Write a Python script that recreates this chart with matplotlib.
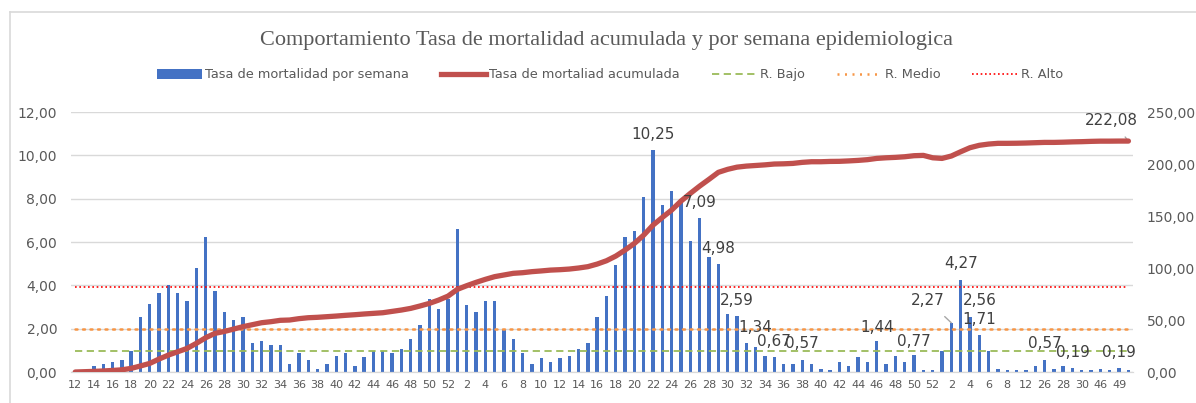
import matplotlib
matplotlib.use("Agg")
import matplotlib.pyplot as plt
from matplotlib.ticker import FuncFormatter, MultipleLocator
from matplotlib.lines import Line2D
from matplotlib.patches import Patch
import numpy as np

# epidemiological weeks: 2020 (12-52), 2021 (1-52), 2022 (partial)
weeks_y1 = list(range(12, 53))
weeks_y2 = list(range(1, 53))
weeks_y3 = [1, 2, 3, 4, 5, 6, 7, 8, 10, 12, 14, 26, 27, 28, 29, 30, 45, 46, 48, 49, 50]
weeks = weeks_y1 + weeks_y2 + weeks_y3

# weekly mortality rate
rate_y1 = [0.05, 0.08, 0.29, 0.36, 0.47, 0.55, 0.95, 2.56, 3.13, 3.64, 4.01, 3.64, 3.26,
           4.78, 6.24, 3.73, 2.75, 2.38, 2.56, 1.32, 1.44, 1.24, 1.24, 0.36, 0.87, 0.55,
           0.16, 0.36, 0.75, 0.87, 0.29, 0.69, 0.95, 0.95, 0.87, 1.06, 1.52, 2.18, 3.35,
           2.89, 3.35]
rate_y2 = [6.62, 3.07, 2.75, 3.27, 3.26, 1.98, 1.52, 0.86, 0.35, 0.66, 0.47, 0.66, 0.73,
           1.04, 1.32, 2.55, 3.53, 4.96, 6.24, 6.50, 8.06, 10.25, 7.73, 8.35, 7.98, 6.04,
           7.09, 5.33, 4.98, 2.67, 2.59, 1.34, 1.15, 0.75, 0.67, 0.36, 0.36, 0.57, 0.36,
           0.16, 0.10, 0.47, 0.29, 0.69, 0.47, 1.44, 0.36, 0.75, 0.47, 0.77, 0.10, 0.10]
rate_y3 = [0.96, 2.27, 4.27, 2.56, 1.71, 0.96, 0.16, 0.10, 0.10, 0.10, 0.29, 0.57, 0.16,
           0.29, 0.19, 0.10, 0.10, 0.16, 0.10, 0.19, 0.10]
weekly_rate = rate_y1 + rate_y2 + rate_y3

# cumulative mortality rate (right axis)
cumulative = [0.0, 0.3, 0.6, 1.0, 1.5, 2.1, 3.5, 5.8, 8.3, 12.5, 16.3, 19.5, 22.7, 27.6,
              33.0, 37.2, 39.0, 41.3, 43.6, 45.5, 47.4, 48.4, 49.7, 50.0, 51.3, 52.2,
              52.6, 53.2, 53.8, 54.5, 55.1, 55.8, 56.4, 57.0, 58.3, 59.6, 61.2, 63.5,
              66.0, 69.2, 73.0, 79.5, 83.0, 86.2, 89.1, 91.7, 93.3, 94.9, 95.5, 96.5,
              97.2, 98.0, 98.4, 99.0, 100.0, 101.3, 103.8, 107.0, 111.5, 117.3, 123.7,
              131.7, 141.3, 148.7, 155.8, 164.4, 171.8, 178.8, 185.3, 192.0, 194.9,
              197.0, 198.0, 198.6, 199.2, 200.0, 200.2, 200.6, 201.6, 202.2, 202.2,
              202.5, 202.6, 203.0, 203.5, 204.2, 205.4, 206.0, 206.4, 207.0, 208.0,
              208.3, 206.0, 205.4, 207.7, 211.8, 215.7, 218.0, 219.2, 219.9, 219.9,
              220.0, 220.2, 220.5, 220.8, 220.8, 221.0, 221.3, 221.5, 221.8, 222.0,
              222.0, 222.08, 222.08]

# risk thresholds
r_bajo = 0.95
r_medio = 1.97
r_alto = 3.94

# data labels shown on bars: (bar index, value, x shift px, y shift px)
bar_labels = [(62, 10.25, 0, 0), (67, 7.09, 0, 0), (69, 4.98, 0, 0), (71, 2.59, 0, 0),
              (72, 1.34, 9, 0), (75, 0.67, 0, 0), (78, 0.57, 0, 0), (86, 1.44, 0, -3),
              (90, 0.77, 0, -2), (95, 4.27, 0, 0), (96, 2.56, 10, 0), (97, 1.71, 0, 0),
              (104, 0.57, 0, 0), (107, 0.19, 0, 0), (112, 0.19, 0, 0)]

BLUE = '#4472C4'
RED = '#C0504D'
GRAY = '#595959'


def comma(v, pos=None):
    return ('%.2f' % v).replace('.', ',')


x = np.arange(len(weeks))

fig = plt.figure(figsize=(11.96, 4.03), dpi=100)
ax1 = fig.add_axes([0.0594, 0.0769, 0.8876, 0.6451])
ax2 = ax1.twinx()

ax1.bar(x, weekly_rate, width=0.36, color=BLUE, zorder=2)
ax1.plot(x, np.full(len(x), r_bajo), color='#9BBB59', lw=1.3, ls=(0, (4, 2.5)), zorder=3)
ax1.plot(x, np.full(len(x), r_medio), color='#F79646', lw=1.8, ls=(0, (0.8, 2.2)),
         dash_capstyle='round', zorder=3)
ax1.plot(x, np.full(len(x), r_alto), color='#FF0000', lw=1.2, ls=(0, (1, 1.6)), zorder=3)
ax1.set_ylim(0, 12)
ax1.yaxis.set_major_locator(MultipleLocator(2))
ax1.yaxis.set_major_formatter(FuncFormatter(comma))
ax1.grid(axis='y', color='#D9D9D9', lw=1, zorder=0)
ax1.set_axisbelow(True)

ax2.plot(x, cumulative, color=RED, lw=3.8, solid_capstyle='round', zorder=4)
ax2.set_ylim(0, 250)
ax2.yaxis.set_major_locator(MultipleLocator(50))
ax2.yaxis.set_major_formatter(FuncFormatter(comma))

ax1.set_xlim(-0.45, len(weeks) - 0.55)
ax1.set_xticks(x[::2])
ax1.set_xticklabels([str(w) for w in weeks[::2]])

for ax in (ax1, ax2):
    for s in ('top', 'left', 'right'):
        ax.spines[s].set_visible(False)
    ax.spines['bottom'].set_color('#D9D9D9')
    ax.tick_params(length=0, colors=GRAY)
ax1.tick_params(axis='y', labelsize=10, pad=10)
ax2.tick_params(axis='y', labelsize=10, pad=10)
ax1.tick_params(axis='x', labelsize=8, pad=6)

# labels drawn on the top axes so the line does not cover them
for idx, val, dx, dy in bar_labels:
    ax2.annotate(comma(val), (x[idx], val), xycoords=ax1.transData,
                 xytext=(dx * 0.72, 6 + dy * 0.72),
                 textcoords='offset points', ha='center', va='bottom',
                 fontsize=11, color='#404040', zorder=6)

# moved labels with leader lines
ax2.annotate(comma(weekly_rate[94]), (x[94], weekly_rate[94]), xycoords=ax1.transData,
             xytext=(-17, 16), textcoords='offset points', ha='center', va='center',
             fontsize=11, color='#404040',
             arrowprops=dict(arrowstyle='-', color='#A6A6A6', lw=1, shrinkA=6, shrinkB=0))
ax2.annotate(comma(cumulative[-1]), (x[-1], cumulative[-1]), xytext=(-12, 15),
             textcoords='offset points', ha='center', va='center', fontsize=11,
             color='#404040',
             arrowprops=dict(arrowstyle='-', color='#A6A6A6', lw=1, shrinkA=6, shrinkB=0))

fig.text(0.507, 0.90, 'Comportamiento Tasa de mortalidad acumulada y por semana epidemiologica',
         ha='center', va='center', fontsize=16, family='Liberation Serif', color=GRAY)

handles = [Patch(facecolor=BLUE),
           Line2D([], [], color=RED, lw=3.8),
           Line2D([], [], color='#9BBB59', lw=1.3, ls=(0, (4, 2.5))),
           Line2D([], [], color='#F79646', lw=1.8, ls=(0, (0.8, 2.2))),
           Line2D([], [], color='#FF0000', lw=1.2, ls=(0, (1, 1.6)))]
names = ['Tasa de mortalidad por semana', 'Tasa de mortaliad acumulada',
         'R. Bajo', 'R. Medio', 'R. Alto']
fig.legend(handles, names, loc='center', bbox_to_anchor=(0.51, 0.814), ncol=5,
           frameon=False, fontsize=9.3, labelcolor=GRAY, handlelength=3.5,
           handleheight=0.9, columnspacing=2.45, handletextpad=0.25)

# chart area border
fig.add_artist(Line2D([0.008, 1.0], [1 - 12 / 403.0] * 2, color='#D9D9D9', lw=1.2,
                      transform=fig.transFigure))
fig.add_artist(Line2D([0.008, 0.008], [0, 1 - 12 / 403.0], color='#D9D9D9', lw=1.2,
                      transform=fig.transFigure))

fig.savefig('out.png', dpi=100, facecolor='white')
